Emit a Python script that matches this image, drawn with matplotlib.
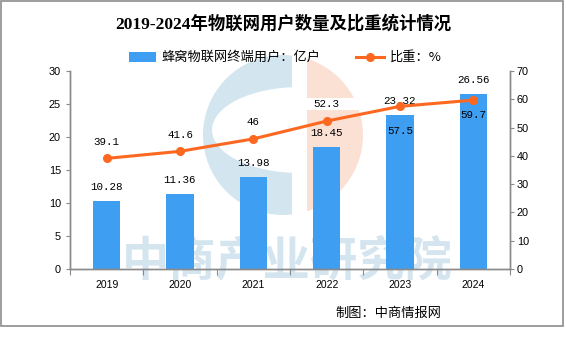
import matplotlib
matplotlib.use("Agg")
import matplotlib.pyplot as plt
from matplotlib.patches import Rectangle, Circle, Ellipse
from matplotlib.lines import Line2D

# Chart data
years = ["2019", "2020", "2021", "2022", "2023", "2024"]
users = [10.28, 11.36, 13.98, 18.45, 23.32, 26.56]      # 亿户
share = [39.1, 41.6, 46, 52.3, 57.5, 59.7]              # %
left_ticks = [0, 5, 10, 15, 20, 25, 30]
right_ticks = [0, 10, 20, 30, 40, 50, 60, 70]

title = "2019-2024年物联网用户数量及比重统计情况"
bar_name = "蜂窝物联网终端用户：亿户"
line_name = "比重：%"
footer = "制图：中商情报网"
watermark = "中商产业研究院"

# vertical offsets (points) of the share labels relative to their markers
share_label_dy = [12, 12, 12, 12, -18, -11]

BAR_C = "#3d9ef2"
LINE_C = "#fd6820"
AX_C = "#8a8a8a"
CJK = ["Noto Sans CJK SC", "DejaVu Sans"]

W, H = 566, 340
fig = plt.figure(figsize=(W / 100, H / 100), dpi=100)

# background layer in pixel coordinates: frame, logo, watermark, legend, footer
bg = fig.add_axes([0, 0, 1, 1], zorder=-1)
bg.set_xlim(0, W)
bg.set_ylim(H, 0)
bg.axis("off")

bg.add_patch(Rectangle((0.5, 0.5), 562.5, 325.5, fill=False,
                       edgecolor="#8c8c8c", lw=1.2, clip_on=False))

cx, cy, r = 283, 135, 80
left_clip = Rectangle((0, 0), 292, H, transform=bg.transData)
right_clip = Rectangle((307, 0), W - 307, H, transform=bg.transData)
blue_disc = Circle((cx, cy), r, color="#d3e5ef", lw=0)
bg.add_patch(blue_disc)
blue_disc.set_clip_path(left_clip)
hole = Ellipse((300, 130), 176, 86, color="white", lw=0)
bg.add_patch(hole)
hole.set_clip_path(left_clip)
peach_disc = Circle((cx, cy), r, color="#fbe0d4", lw=0)
bg.add_patch(peach_disc)
peach_disc.set_clip_path(right_clip)
gap = Rectangle((300, 98), 80, 12, color="white", lw=0)
bg.add_patch(gap)

bg.text(287, 261, watermark, fontsize=34, color="#d4e5ef", ha="center",
        va="center", fontweight="bold", family=CJK)

# title
fig.text(0.5, 1 - 24 / H, title, ha="center", va="center", fontsize=12.5,
         fontweight="bold", family=["Liberation Serif", "Noto Sans CJK SC"])

# legend
LY = 57
bg.add_patch(Rectangle((129, LY - 5), 27, 10, color=BAR_C, lw=0))
bg.text(161, LY, bar_name, fontsize=9.5, va="center", ha="left", family=CJK)
bg.add_line(Line2D([356, 384], [LY, LY], color=LINE_C, lw=2.2))
bg.plot([370], [LY], "o", color=LINE_C, ms=5.5)
bg.text(390, LY, line_name, fontsize=9.5, va="center", ha="left", family=CJK)

# footer
bg.text(335, 313, footer, fontsize=9.5, va="center", ha="left", family=CJK)

# main axes
ax = fig.add_axes([70 / W, 1 - 269 / H, 440 / W, 198 / H])
ax.patch.set_alpha(0)
x = list(range(len(years)))
ax.bar(x, users, width=0.37, color=BAR_C, zorder=2)
ax.set_xlim(-0.5, len(years) - 0.5)
ax.set_ylim(0, 30)
ax.set_yticks(left_ticks)
ax.set_xticks([i - 0.5 for i in range(len(years) + 1)])
ax.set_xticklabels([])
ax.set_xticks(x, minor=True)
ax.set_xticklabels(years, minor=True)
ax.tick_params(axis="x", which="major", length=4, color=AX_C, direction="out")
ax.tick_params(axis="x", which="minor", length=0, pad=8, labelsize=7.5)
ax.tick_params(axis="y", length=3, color=AX_C, pad=3.5, labelsize=7.8)
for lab in ax.get_xticklabels(minor=True) + ax.get_yticklabels():
    lab.set_family("Liberation Sans")

for i, v in enumerate(users):
    ax.annotate(f"{v:g}", (i, v), xytext=(0, 10), textcoords="offset points",
                ha="center", va="center", fontsize=7.8,
                family="Liberation Mono", zorder=5)

ax2 = ax.twinx()
ax2.set_ylim(0, 70)
ax2.set_yticks(right_ticks)
ax2.plot(x, share, color=LINE_C, lw=2.2, marker="o", ms=5.5, zorder=3)
ax2.tick_params(axis="y", length=3, color=AX_C, pad=2, labelsize=7.8)
for lab in ax2.get_yticklabels():
    lab.set_family("Liberation Sans")
for i, v in enumerate(share):
    ax2.annotate(f"{v:g}", (i, v), xytext=(0, share_label_dy[i]),
                 textcoords="offset points", ha="center", va="center",
                 fontsize=7.8, family="Liberation Mono", zorder=5)

for a in (ax, ax2):
    a.spines["top"].set_visible(False)
    for s in ("left", "right", "bottom"):
        a.spines[s].set_color(AX_C)
        a.spines[s].set_linewidth(1.0)

fig.savefig("out.png", dpi=100)
